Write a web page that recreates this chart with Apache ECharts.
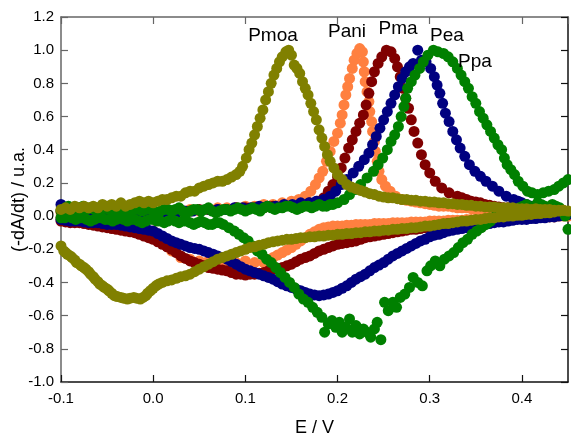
<!DOCTYPE html>
<html><head><meta charset="utf-8">
<script src="https://cdn.jsdelivr.net/npm/echarts@6/dist/echarts.min.js"></script>
<style>html,body{margin:0;padding:0;background:#fff}#c{width:571px;height:436px}</style>
</head><body><div id="c"></div>
<script>
// ---- DATA (E / V, -dA/dt normalised) ----
const seriesNames = ['Pani', 'Pma', 'Pea', 'Ppa', 'Pmoa'];

const paniUpper = [[-0.100,0.02],[-0.090,0.01],[-0.080,0.02],[-0.070,0.00],[-0.060,0.01],[-0.050,0.00],[-0.040,0.01],[-0.030,0.02],[-0.020,0.01],[-0.010,0.02],[0.000,0.02],[0.010,0.03],[0.020,0.02],[0.030,0.03],[0.040,0.04],[0.050,0.03],[0.060,0.04],[0.070,0.05],[0.080,0.05],[0.090,0.05],[0.100,0.06],[0.110,0.06],[0.120,0.07],[0.130,0.07],[0.140,0.08],[0.150,0.09],[0.158,0.10],[0.165,0.12],[0.171,0.15],[0.176,0.19],[0.180,0.23],[0.184,0.27],[0.188,0.33],[0.192,0.39],[0.196,0.45],[0.200,0.50],[0.203,0.56],[0.205,0.61],[0.207,0.67],[0.209,0.73],[0.211,0.78],[0.213,0.83],[0.216,0.89],[0.218,0.94],[0.221,0.98],[0.224,1.01],[0.227,0.99],[0.228,0.93],[0.229,0.87],[0.230,0.81],[0.232,0.75],[0.234,0.69],[0.235,0.63],[0.237,0.57],[0.238,0.51],[0.240,0.45],[0.241,0.39],[0.243,0.33],[0.245,0.27],[0.248,0.22],[0.252,0.18],[0.257,0.15],[0.263,0.12],[0.270,0.10],[0.275,0.095],[0.280,0.09],[0.285,0.085],[0.290,0.08],[0.295,0.075],[0.300,0.07],[0.305,0.065],[0.310,0.06],[0.315,0.06],[0.320,0.06],[0.325,0.055],[0.330,0.05],[0.335,0.05],[0.340,0.05],[0.345,0.045],[0.350,0.04],[0.355,0.04],[0.360,0.04],[0.365,0.04],[0.370,0.04],[0.375,0.035],[0.380,0.03],[0.385,0.03],[0.390,0.03],[0.395,0.03],[0.400,0.03],[0.405,0.025],[0.410,0.02],[0.415,0.02],[0.420,0.02],[0.425,0.02],[0.430,0.02],[0.435,0.015],[0.440,0.01],[0.445,0.01],[0.450,0.01]];
const paniLower = [[0.450,0.00],[0.445,0.00],[0.440,0.00],[0.435,-0.005],[0.430,-0.005],[0.425,-0.005],[0.420,-0.005],[0.415,-0.01],[0.410,-0.01],[0.405,-0.01],[0.400,-0.01],[0.395,-0.01],[0.390,-0.01],[0.385,-0.015],[0.380,-0.015],[0.375,-0.015],[0.370,-0.015],[0.365,-0.02],[0.360,-0.02],[0.355,-0.02],[0.350,-0.02],[0.345,-0.02],[0.340,-0.02],[0.335,-0.025],[0.330,-0.025],[0.325,-0.025],[0.320,-0.025],[0.315,-0.03],[0.310,-0.03],[0.305,-0.03],[0.300,-0.03],[0.295,-0.035],[0.290,-0.035],[0.285,-0.035],[0.280,-0.035],[0.275,-0.04],[0.270,-0.04],[0.265,-0.04],[0.260,-0.04],[0.255,-0.045],[0.250,-0.045],[0.245,-0.045],[0.240,-0.045],[0.235,-0.05],[0.230,-0.05],[0.225,-0.05],[0.220,-0.05],[0.215,-0.055],[0.210,-0.055],[0.205,-0.06],[0.200,-0.06],[0.195,-0.06],[0.190,-0.065],[0.185,-0.07],[0.180,-0.08],[0.175,-0.095],[0.170,-0.11],[0.165,-0.13],[0.160,-0.15],[0.155,-0.17],[0.150,-0.19],[0.145,-0.205],[0.140,-0.22],[0.135,-0.235],[0.130,-0.25],[0.125,-0.265],[0.120,-0.28],[0.110,-0.28],[0.100,-0.27],[0.090,-0.28],[0.080,-0.29],[0.070,-0.28],[0.060,-0.27],[0.050,-0.27],[0.040,-0.26],[0.030,-0.25],[0.020,-0.21],[0.013,-0.16],[0.006,-0.12],[0.000,-0.09],[-0.010,-0.07],[-0.020,-0.05],[-0.030,-0.04],[-0.040,-0.04],[-0.050,-0.03],[-0.060,-0.03],[-0.070,-0.02],[-0.080,-0.02],[-0.090,-0.01],[-0.100,-0.01]];

const pmaUpper = [[-0.100,0.03],[-0.090,0.02],[-0.080,0.02],[-0.070,0.01],[-0.060,0.02],[-0.050,0.01],[-0.040,0.02],[-0.030,0.02],[-0.020,0.01],[-0.010,0.02],[0.000,0.03],[0.010,0.02],[0.020,0.03],[0.030,0.03],[0.040,0.03],[0.050,0.04],[0.060,0.04],[0.070,0.04],[0.080,0.04],[0.090,0.05],[0.100,0.05],[0.110,0.05],[0.120,0.05],[0.130,0.06],[0.140,0.06],[0.150,0.06],[0.160,0.07],[0.170,0.08],[0.178,0.09],[0.185,0.11],[0.190,0.15],[0.195,0.19],[0.200,0.235],[0.204,0.29],[0.208,0.35],[0.212,0.41],[0.216,0.46],[0.220,0.51],[0.224,0.56],[0.228,0.61],[0.231,0.67],[0.234,0.74],[0.237,0.81],[0.240,0.87],[0.244,0.92],[0.248,0.96],[0.253,1.00],[0.258,0.99],[0.262,0.95],[0.265,0.90],[0.268,0.84],[0.271,0.77],[0.274,0.71],[0.277,0.65],[0.280,0.58],[0.283,0.51],[0.287,0.44],[0.291,0.37],[0.295,0.31],[0.300,0.26],[0.306,0.21],[0.313,0.17],[0.321,0.14],[0.330,0.12],[0.335,0.11],[0.340,0.10],[0.345,0.09],[0.350,0.085],[0.355,0.08],[0.360,0.07],[0.365,0.065],[0.370,0.06],[0.375,0.055],[0.380,0.05],[0.385,0.05],[0.390,0.045],[0.395,0.04],[0.400,0.04],[0.405,0.04],[0.410,0.035],[0.415,0.03],[0.420,0.03],[0.425,0.03],[0.430,0.03],[0.435,0.025],[0.440,0.02],[0.445,0.02],[0.450,0.02]];
const pmaLower = [[0.450,0.01],[0.445,0.005],[0.440,0.005],[0.435,0.0],[0.430,0.0],[0.425,0.0],[0.420,-0.005],[0.415,-0.005],[0.410,-0.005],[0.405,-0.01],[0.400,-0.01],[0.395,-0.01],[0.390,-0.015],[0.385,-0.015],[0.380,-0.015],[0.375,-0.02],[0.370,-0.02],[0.365,-0.025],[0.360,-0.025],[0.355,-0.03],[0.350,-0.03],[0.345,-0.035],[0.340,-0.035],[0.335,-0.04],[0.330,-0.04],[0.325,-0.045],[0.320,-0.045],[0.315,-0.05],[0.310,-0.055],[0.305,-0.06],[0.300,-0.065],[0.295,-0.07],[0.290,-0.075],[0.285,-0.08],[0.280,-0.08],[0.275,-0.085],[0.270,-0.09],[0.265,-0.095],[0.260,-0.10],[0.255,-0.105],[0.250,-0.11],[0.245,-0.115],[0.240,-0.12],[0.235,-0.125],[0.230,-0.13],[0.225,-0.14],[0.220,-0.15],[0.215,-0.155],[0.210,-0.16],[0.205,-0.165],[0.200,-0.17],[0.195,-0.18],[0.190,-0.19],[0.185,-0.20],[0.180,-0.21],[0.175,-0.225],[0.170,-0.24],[0.165,-0.25],[0.160,-0.26],[0.155,-0.275],[0.150,-0.29],[0.145,-0.30],[0.140,-0.31],[0.135,-0.315],[0.130,-0.32],[0.125,-0.33],[0.120,-0.34],[0.115,-0.345],[0.110,-0.35],[0.105,-0.35],[0.100,-0.355],[0.095,-0.35],[0.090,-0.35],[0.085,-0.34],[0.080,-0.33],[0.075,-0.325],[0.070,-0.32],[0.065,-0.315],[0.060,-0.31],[0.055,-0.30],[0.050,-0.29],[0.045,-0.28],[0.040,-0.27],[0.035,-0.255],[0.030,-0.24],[0.025,-0.22],[0.020,-0.20],[0.015,-0.185],[0.010,-0.17],[0.005,-0.155],[0.000,-0.14],[-0.005,-0.13],[-0.010,-0.12],[-0.015,-0.11],[-0.020,-0.10],[-0.025,-0.095],[-0.030,-0.09],[-0.035,-0.085],[-0.040,-0.08],[-0.045,-0.075],[-0.050,-0.07],[-0.055,-0.065],[-0.060,-0.06],[-0.065,-0.055],[-0.070,-0.05],[-0.075,-0.045],[-0.080,-0.04],[-0.085,-0.04],[-0.090,-0.04],[-0.095,-0.035],[-0.100,-0.03]];

const peaUpper = [[-0.100,0.07],[-0.092,0.03],[-0.083,0.02],[-0.074,0.01],[-0.065,0.02],[-0.056,0.01],[-0.047,0.00],[-0.038,0.01],[-0.029,0.02],[-0.020,0.01],[-0.011,0.02],[-0.002,0.02],[0.007,0.01],[0.016,0.02],[0.025,0.02],[0.034,0.03],[0.043,0.03],[0.052,0.03],[0.061,0.04],[0.070,0.04],[0.079,0.04],[0.088,0.05],[0.097,0.05],[0.106,0.05],[0.115,0.06],[0.124,0.06],[0.133,0.06],[0.142,0.07],[0.151,0.07],[0.160,0.08],[0.169,0.08],[0.177,0.09],[0.185,0.10],[0.192,0.12],[0.198,0.15],[0.204,0.19],[0.210,0.22],[0.217,0.26],[0.223,0.30],[0.229,0.34],[0.234,0.38],[0.238,0.43],[0.242,0.48],[0.246,0.53],[0.250,0.58],[0.254,0.63],[0.258,0.68],[0.262,0.73],[0.266,0.78],[0.270,0.83],[0.274,0.87],[0.278,0.90],[0.282,0.92],[0.287,1.00],[0.291,0.94],[0.296,0.93],[0.301,0.89],[0.305,0.84],[0.308,0.79],[0.311,0.74],[0.314,0.68],[0.317,0.62],[0.321,0.57],[0.325,0.51],[0.329,0.46],[0.333,0.41],[0.338,0.36],[0.343,0.31],[0.349,0.27],[0.355,0.24],[0.361,0.21],[0.368,0.18],[0.375,0.15],[0.383,0.12],[0.391,0.10],[0.396,0.09],[0.400,0.08],[0.405,0.07],[0.410,0.06],[0.415,0.055],[0.420,0.05],[0.425,0.045],[0.430,0.04],[0.435,0.035],[0.440,0.03],[0.445,0.025],[0.450,0.02]];
const peaLower = [[0.450,0.01],[0.445,0.005],[0.440,0.0],[0.435,-0.005],[0.430,-0.005],[0.425,-0.01],[0.420,-0.01],[0.415,-0.015],[0.410,-0.015],[0.405,-0.02],[0.400,-0.02],[0.395,-0.02],[0.390,-0.025],[0.385,-0.03],[0.380,-0.035],[0.375,-0.035],[0.370,-0.04],[0.365,-0.045],[0.360,-0.05],[0.355,-0.055],[0.350,-0.06],[0.345,-0.065],[0.340,-0.07],[0.335,-0.075],[0.330,-0.08],[0.325,-0.085],[0.320,-0.09],[0.315,-0.10],[0.310,-0.11],[0.305,-0.115],[0.300,-0.125],[0.295,-0.14],[0.290,-0.15],[0.285,-0.165],[0.280,-0.18],[0.275,-0.195],[0.270,-0.21],[0.265,-0.225],[0.260,-0.24],[0.255,-0.26],[0.250,-0.28],[0.245,-0.295],[0.240,-0.31],[0.235,-0.33],[0.230,-0.35],[0.225,-0.365],[0.220,-0.38],[0.215,-0.40],[0.210,-0.42],[0.205,-0.435],[0.200,-0.45],[0.195,-0.46],[0.190,-0.47],[0.185,-0.475],[0.180,-0.48],[0.175,-0.475],[0.170,-0.47],[0.165,-0.46],[0.160,-0.45],[0.155,-0.44],[0.150,-0.43],[0.145,-0.42],[0.140,-0.41],[0.135,-0.395],[0.130,-0.38],[0.125,-0.37],[0.120,-0.36],[0.115,-0.35],[0.110,-0.34],[0.105,-0.33],[0.100,-0.32],[0.095,-0.305],[0.090,-0.29],[0.085,-0.275],[0.080,-0.26],[0.075,-0.25],[0.070,-0.24],[0.065,-0.23],[0.060,-0.22],[0.055,-0.21],[0.050,-0.20],[0.045,-0.195],[0.040,-0.19],[0.035,-0.18],[0.030,-0.17],[0.025,-0.16],[0.020,-0.15],[0.015,-0.135],[0.010,-0.12],[0.005,-0.105],[0.000,-0.09],[-0.005,-0.085],[-0.010,-0.08],[-0.015,-0.075],[-0.020,-0.07],[-0.025,-0.065],[-0.030,-0.06],[-0.035,-0.055],[-0.040,-0.05],[-0.045,-0.05],[-0.050,-0.05],[-0.055,-0.045],[-0.060,-0.04],[-0.065,-0.04],[-0.070,-0.04],[-0.075,-0.035],[-0.080,-0.03],[-0.085,-0.03],[-0.090,-0.03],[-0.095,-0.025],[-0.100,-0.02]];

const ppaUpper = [[-0.100,0.03],[-0.095,0.05],[-0.092,0.06],[-0.088,0.04],[-0.084,0.04],[-0.080,0.05],[-0.076,0.06],[-0.072,0.04],[-0.068,0.05],[-0.064,0.04],[-0.060,0.03],[-0.056,0.04],[-0.052,0.05],[-0.048,0.04],[-0.044,0.03],[-0.040,0.04],[-0.036,0.05],[-0.032,0.03],[-0.028,0.02],[-0.024,0.03],[-0.020,0.04],[-0.016,0.04],[-0.012,0.03],[-0.008,0.04],[-0.004,0.05],[0.000,0.03],[0.004,0.02],[0.008,0.03],[0.012,0.04],[0.016,0.04],[0.020,0.03],[0.024,0.04],[0.028,0.05],[0.032,0.03],[0.036,0.02],[0.040,0.03],[0.044,0.04],[0.048,0.04],[0.052,0.03],[0.056,0.04],[0.060,0.05],[0.064,0.03],[0.068,0.02],[0.072,0.03],[0.076,0.04],[0.080,0.04],[0.084,0.03],[0.088,0.04],[0.092,0.05],[0.096,0.04],[0.100,0.03],[0.104,0.04],[0.108,0.05],[0.112,0.04],[0.116,0.03],[0.120,0.05],[0.124,0.06],[0.128,0.05],[0.132,0.04],[0.136,0.05],[0.140,0.05],[0.144,0.06],[0.148,0.06],[0.152,0.05],[0.156,0.04],[0.160,0.05],[0.164,0.06],[0.168,0.06],[0.172,0.05],[0.176,0.06],[0.180,0.07],[0.184,0.06],[0.188,0.06],[0.192,0.07],[0.195,0.07],[0.200,0.08],[0.207,0.10],[0.213,0.13],[0.219,0.16],[0.225,0.19],[0.232,0.23],[0.239,0.27],[0.244,0.31],[0.249,0.35],[0.254,0.40],[0.258,0.45],[0.262,0.49],[0.266,0.54],[0.269,0.60],[0.272,0.66],[0.274,0.71],[0.276,0.77],[0.280,0.81],[0.284,0.85],[0.289,0.89],[0.293,0.93],[0.298,0.97],[0.304,1.00],[0.309,0.99],[0.315,0.98],[0.320,0.96],[0.325,0.93],[0.330,0.89],[0.334,0.85],[0.338,0.81],[0.342,0.77],[0.346,0.72],[0.350,0.68],[0.354,0.63],[0.358,0.59],[0.362,0.55],[0.366,0.51],[0.370,0.47],[0.374,0.43],[0.378,0.40],[0.381,0.35],[0.384,0.31],[0.388,0.28],[0.392,0.25],[0.396,0.21],[0.401,0.18],[0.406,0.15],[0.411,0.14],[0.417,0.13],[0.423,0.14],[0.429,0.15],[0.435,0.16],[0.440,0.18],[0.445,0.20],[0.450,0.22]];
const ppaLower = [[0.450,-0.08],[0.447,0.00],[0.441,0.05],[0.437,0.06],[0.433,0.07],[0.429,0.05],[0.425,0.06],[0.421,0.07],[0.417,0.08],[0.413,0.06],[0.409,0.05],[0.405,0.07],[0.401,0.06],[0.397,0.05],[0.393,0.04],[0.389,0.04],[0.385,0.03],[0.381,0.03],[0.378,0.02],[0.375,0.01],[0.372,0.00],[0.369,-0.01],[0.366,-0.03],[0.363,-0.04],[0.361,-0.05],[0.356,-0.07],[0.351,-0.09],[0.346,-0.11],[0.341,-0.14],[0.336,-0.16],[0.331,-0.19],[0.326,-0.22],[0.321,-0.24],[0.316,-0.26],[0.311,-0.30],[0.306,-0.27],[0.301,-0.30],[0.297,-0.33],[0.292,-0.42],[0.287,-0.40],[0.282,-0.37],[0.278,-0.43],[0.273,-0.47],[0.268,-0.49],[0.264,-0.55],[0.260,-0.52],[0.255,-0.57],[0.251,-0.52],[0.247,-0.745],[0.243,-0.64],[0.240,-0.68],[0.236,-0.73],[0.232,-0.70],[0.228,-0.68],[0.224,-0.71],[0.220,-0.66],[0.216,-0.70],[0.213,-0.62],[0.209,-0.67],[0.205,-0.70],[0.202,-0.64],[0.198,-0.67],[0.194,-0.63],[0.190,-0.65],[0.186,-0.70],[0.183,-0.61],[0.178,-0.58],[0.173,-0.55],[0.168,-0.52],[0.163,-0.50],[0.158,-0.47],[0.153,-0.43],[0.148,-0.40],[0.143,-0.37],[0.138,-0.34],[0.133,-0.31],[0.128,-0.28],[0.123,-0.26],[0.118,-0.23],[0.113,-0.21],[0.108,-0.18],[0.103,-0.15],[0.098,-0.13],[0.093,-0.11],[0.088,-0.09],[0.082,-0.07],[0.076,-0.05],[0.072,-0.04],[0.068,-0.04],[0.064,-0.05],[0.060,-0.05],[0.056,-0.04],[0.052,-0.03],[0.048,-0.04],[0.044,-0.05],[0.040,-0.04],[0.036,-0.03],[0.032,-0.03],[0.028,-0.04],[0.024,-0.03],[0.020,-0.02],[0.016,-0.03],[0.012,-0.04],[0.008,-0.03],[0.004,-0.03],[0.000,-0.02],[-0.004,-0.02],[-0.008,-0.03],[-0.012,-0.04],[-0.016,-0.03],[-0.020,-0.02],[-0.024,-0.02],[-0.028,-0.03],[-0.032,-0.02],[-0.036,-0.01],[-0.040,-0.02],[-0.044,-0.03],[-0.048,-0.02],[-0.052,-0.02],[-0.056,-0.01],[-0.060,-0.01],[-0.064,-0.02],[-0.068,-0.03],[-0.072,-0.02],[-0.076,-0.01],[-0.080,-0.01],[-0.084,-0.02],[-0.088,-0.01],[-0.092,0.00],[-0.096,-0.01],[-0.100,-0.01]];

const pmoaUpper = [[-0.100,0.04],[-0.095,0.05],[-0.090,0.04],[-0.085,0.06],[-0.080,0.05],[-0.075,0.06],[-0.070,0.05],[-0.065,0.06],[-0.060,0.05],[-0.055,0.07],[-0.050,0.06],[-0.045,0.07],[-0.040,0.06],[-0.035,0.08],[-0.030,0.06],[-0.025,0.07],[-0.020,0.08],[-0.015,0.09],[-0.010,0.08],[-0.005,0.09],[0.000,0.08],[0.005,0.09],[0.010,0.10],[0.015,0.10],[0.020,0.11],[0.025,0.12],[0.030,0.12],[0.035,0.14],[0.040,0.15],[0.045,0.15],[0.050,0.17],[0.055,0.18],[0.060,0.19],[0.065,0.20],[0.070,0.21],[0.075,0.21],[0.080,0.22],[0.085,0.235],[0.090,0.25],[0.094,0.27],[0.097,0.30],[0.101,0.35],[0.104,0.40],[0.107,0.44],[0.110,0.49],[0.113,0.54],[0.116,0.59],[0.119,0.64],[0.122,0.70],[0.125,0.75],[0.128,0.80],[0.131,0.85],[0.134,0.89],[0.137,0.93],[0.140,0.96],[0.144,0.99],[0.147,1.00],[0.150,0.97],[0.153,0.91],[0.156,0.89],[0.159,0.86],[0.162,0.81],[0.165,0.77],[0.168,0.73],[0.171,0.68],[0.174,0.63],[0.177,0.58],[0.180,0.52],[0.183,0.47],[0.186,0.42],[0.189,0.37],[0.192,0.33],[0.196,0.29],[0.200,0.25],[0.205,0.22],[0.210,0.19],[0.215,0.175],[0.220,0.165],[0.225,0.155],[0.230,0.145],[0.235,0.135],[0.240,0.13],[0.245,0.12],[0.250,0.115],[0.255,0.11],[0.260,0.11],[0.265,0.105],[0.270,0.10],[0.275,0.10],[0.280,0.095],[0.285,0.095],[0.290,0.09],[0.295,0.09],[0.300,0.085],[0.305,0.085],[0.310,0.08],[0.315,0.08],[0.320,0.075],[0.325,0.075],[0.330,0.07],[0.335,0.07],[0.340,0.065],[0.345,0.065],[0.350,0.06],[0.355,0.06],[0.360,0.055],[0.365,0.055],[0.370,0.055],[0.375,0.05],[0.380,0.05],[0.385,0.05],[0.390,0.05],[0.395,0.045],[0.400,0.045],[0.405,0.045],[0.410,0.04],[0.415,0.045],[0.420,0.04],[0.425,0.04],[0.430,0.04],[0.435,0.035],[0.440,0.035],[0.445,0.035]];
const pmoaLower = [[0.450,0.03],[0.445,0.035],[0.440,0.03],[0.435,0.025],[0.430,0.02],[0.425,0.02],[0.420,0.015],[0.415,0.015],[0.410,0.01],[0.405,0.01],[0.400,0.005],[0.395,0.005],[0.390,0.0],[0.385,0.0],[0.380,-0.005],[0.375,-0.005],[0.370,-0.01],[0.365,-0.01],[0.360,-0.015],[0.355,-0.02],[0.350,-0.02],[0.345,-0.025],[0.340,-0.03],[0.335,-0.03],[0.330,-0.035],[0.325,-0.04],[0.320,-0.045],[0.315,-0.045],[0.310,-0.05],[0.305,-0.055],[0.300,-0.06],[0.295,-0.06],[0.290,-0.065],[0.285,-0.07],[0.280,-0.07],[0.275,-0.075],[0.270,-0.075],[0.265,-0.08],[0.260,-0.08],[0.255,-0.085],[0.250,-0.085],[0.245,-0.09],[0.240,-0.09],[0.235,-0.095],[0.230,-0.095],[0.225,-0.10],[0.220,-0.10],[0.215,-0.105],[0.210,-0.105],[0.205,-0.11],[0.200,-0.11],[0.195,-0.115],[0.190,-0.115],[0.185,-0.12],[0.180,-0.12],[0.175,-0.125],[0.170,-0.125],[0.165,-0.13],[0.160,-0.13],[0.155,-0.135],[0.150,-0.14],[0.145,-0.14],[0.140,-0.145],[0.135,-0.15],[0.130,-0.155],[0.125,-0.16],[0.120,-0.17],[0.115,-0.175],[0.110,-0.185],[0.105,-0.19],[0.100,-0.20],[0.095,-0.21],[0.090,-0.22],[0.085,-0.23],[0.080,-0.24],[0.075,-0.25],[0.070,-0.26],[0.065,-0.275],[0.060,-0.29],[0.055,-0.305],[0.050,-0.32],[0.045,-0.335],[0.040,-0.35],[0.035,-0.36],[0.030,-0.365],[0.025,-0.375],[0.020,-0.385],[0.015,-0.39],[0.010,-0.40],[0.006,-0.41],[0.003,-0.42],[0.000,-0.435],[-0.003,-0.45],[-0.006,-0.465],[-0.008,-0.48],[-0.011,-0.49],[-0.014,-0.50],[-0.018,-0.495],[-0.021,-0.49],[-0.025,-0.495],[-0.028,-0.50],[-0.032,-0.495],[-0.035,-0.49],[-0.039,-0.485],[-0.042,-0.48],[-0.045,-0.465],[-0.048,-0.45],[-0.050,-0.44],[-0.053,-0.43],[-0.055,-0.42],[-0.058,-0.41],[-0.060,-0.395],[-0.063,-0.38],[-0.065,-0.365],[-0.068,-0.35],[-0.070,-0.335],[-0.073,-0.32],[-0.075,-0.31],[-0.078,-0.30],[-0.080,-0.29],[-0.083,-0.28],[-0.085,-0.265],[-0.088,-0.25],[-0.090,-0.24],[-0.093,-0.23],[-0.095,-0.22],[-0.097,-0.21],[-0.100,-0.18]];

const xTickStep = 0.1, xMin = -0.1, xMax = 0.45;
const yTickStep = 0.2, yMin = -1.0, yMax = 1.2;

// ---- STYLE ----
const colors = ['#FF8040', '#800000', '#000080', '#008000', '#808000'];
const seriesData = [paniUpper.concat(paniLower), pmaUpper.concat(pmaLower), peaUpper.concat(peaLower), ppaUpper.concat(ppaLower), pmoaUpper.concat(pmoaLower)];
const FONT = '"Liberation Sans", Arial, Helvetica, sans-serif';

const chart = echarts.init(document.getElementById('c'), null, {renderer: 'canvas'});
function xAx(pos, labels) {
  return {
    type: 'value', min: xMin, max: xMax, interval: xTickStep, position: pos,
    name: labels ? 'E / V' : '', nameLocation: 'middle', nameGap: 37, nameMoveOverlap: false,
    nameTextStyle: {fontSize: 18, color: '#000', fontFamily: FONT},
    axisLine: {show: true, onZero: false, lineStyle: {color: labels ? '#111' : '#666', width: 1.5}},
    axisTick: {show: true, inside: true, length: 7, lineStyle: {color: labels ? '#111' : '#666', width: 1.2}},
    axisLabel: {show: labels, formatter: v => v.toFixed(1), showMaxLabel: false, fontSize: 15, color: '#000', margin: 9, fontFamily: FONT},
    splitLine: {show: false}
  };
}
function yAx(pos, labels) {
  return {
    type: 'value', min: yMin, max: yMax, interval: yTickStep, position: pos,
    name: labels ? '(-dA/dt) / u.a.' : '', nameLocation: 'middle', nameGap: 33, nameMoveOverlap: false,
    nameTextStyle: {fontSize: 18, color: '#000', fontFamily: FONT},
    axisLine: {show: true, onZero: false, lineStyle: {color: labels ? '#666' : '#111', width: 1.5}},
    axisTick: {show: true, inside: true, length: 7, lineStyle: {color: labels ? '#666' : '#111', width: 1.2}},
    axisLabel: {show: labels, formatter: v => v.toFixed(1), fontSize: 15, color: '#000', margin: 7, fontFamily: FONT},
    splitLine: {show: false}
  };
}
const labelPos = [[347, 32], [398, 29], [447, 36], [475, 62], [273, 36]];
chart.setOption({
  animation: false,
  backgroundColor: '#fff',
  grid: {left: 61, right: 3, top: 17, bottom: 54, outerBoundsMode: 'none'},
  xAxis: [xAx('bottom', true), xAx('top', false)],
  yAxis: [yAx('left', true), yAx('right', false)],
  series: seriesNames.map((n, i) => ({
    name: n, type: 'scatter', xAxisIndex: 0, yAxisIndex: 0,
    symbol: 'circle', symbolSize: 11,
    itemStyle: {color: colors[i], opacity: 1},
    data: seriesData[i]
  })),
  graphic: seriesNames.map((n, i) => ({
    type: 'text', x: labelPos[i][0], y: labelPos[i][1], z: 100,
    style: {text: n, fontSize: 19, fontFamily: FONT, fill: '#000', align: 'center', verticalAlign: 'middle', textAlign: 'center', textVerticalAlign: 'middle'}
  }))
});
</script>
</body></html>
